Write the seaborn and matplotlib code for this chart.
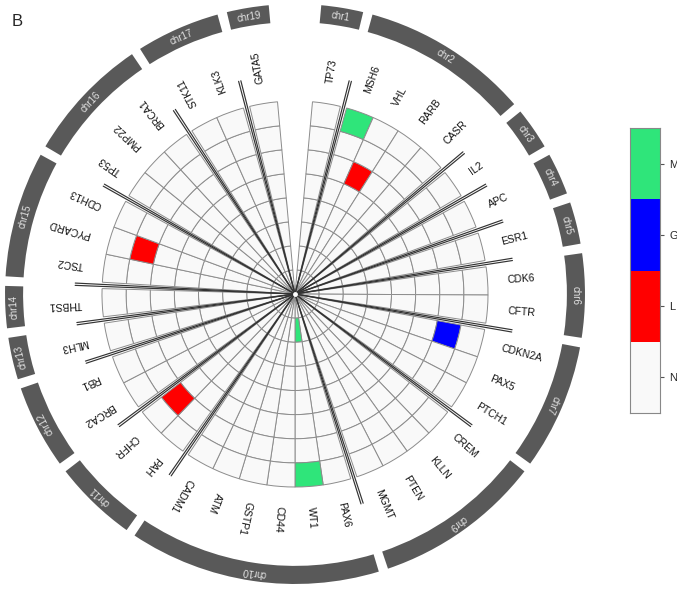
import numpy as np
import pandas as pd
import seaborn as sns
import matplotlib
matplotlib.use("Agg")
import matplotlib.pyplot as plt
from matplotlib.colors import ListedColormap

# genes in clockwise order, starting at 12 o'clock
genes = ["TP73", "MSH6", "VHL", "RARB", "CASR", "IL2", "APC", "ESR1", "CDK6", "CFTR",
         "CDKN2A", "PAX5", "PTCH1", "CREM", "KLLN", "PTEN", "MGMT", "PAX6", "WT1", "CD44",
         "GSTP1", "ATM", "CADM1", "PAH", "CHFR", "BRCA2", "RB1", "MLH3", "THBS1", "TSC2",
         "PYCARD", "CDH13", "TP53", "PMP22", "BRCA1", "STK11", "KLK3", "GATA5"]
group_sizes = [1, 4, 1, 1, 1, 2, 3, 4, 6, 2, 2, 1, 1, 3, 3, 2, 1]
chrom_names = ["chr1", "chr2", "chr3", "chr4", "chr5", "chr6", "chr7", "chr9", "chr10",
               "chr11", "chr12", "chr13", "chr14", "chr15", "chr16", "chr17", "chr19"]
n_samples = 8

status_names = ["N", "L", "G", "M"]
status_colors = ["#f9f9f9", "#ff0000", "#0000ff", "#2fe57a"]

# non-normal cells (sample ring counted from the centre)
hit_genes = ["MSH6", "VHL", "CDKN2A", "WT1", "WT1", "CHFR", "PYCARD"]
hit_rings = [7, 5, 6, 1, 7, 6, 6]
hit_status = ["M", "L", "G", "M", "M", "L", "L"]

calls = pd.DataFrame("N", index=range(n_samples), columns=genes)
for g, r, s in zip(hit_genes, hit_rings, hit_status):
    calls.loc[r, g] = s
codes = calls.replace({s: i for i, s in enumerate(status_names)}).astype(int)

sns.set_style("white")
plt.rcParams["font.family"] = ["Liberation Sans", "DejaVu Sans"]

# angular layout (degrees, clockwise from north)
cell_w, gap, start = 8.4, 1.9, 5.2
theta_lo, spans, boundaries = [], [], []
a = start
for gi, n in enumerate(group_sizes):
    g0 = a
    for k in range(n):
        theta_lo.append(a)
        a += cell_w
    spans.append((g0, a))
    if gi < len(group_sizes) - 1:
        boundaries.append(a + gap / 2)
        a += gap
theta_mid = np.array(theta_lo) + cell_w / 2

W, H = 677, 590
fig = plt.figure(figsize=(W / 100, H / 100), dpi=100)
R = 12.2
pix = R * 193 / 8
cx, cy = 295, 294
ax = fig.add_axes([(cx - pix) / W, (H - cy - pix) / H, 2 * pix / W, 2 * pix / H],
                  projection="polar")
ax.set_theta_zero_location("N")
ax.set_theta_direction(-1)
ax.set_ylim(0, R)
ax.axis("off")

# heatmap cells
th, bt, cols = [], [], []
for i, g in enumerate(genes):
    for r in range(n_samples):
        th.append(np.deg2rad(theta_mid[i]))
        bt.append(r)
        cols.append(status_colors[codes.loc[r, g]])
ax.bar(th, 1, width=np.deg2rad(cell_w), bottom=bt, color=cols,
       edgecolor="#8c8c8c", linewidth=0.7, align="center")

# group separators
for b in boundaries:
    for off in (-0.3, 0.3):
        ax.plot([np.deg2rad(b + off)] * 2, [0, 9.12], color="#333333", lw=0.85)
ax.plot([0], [0], "o", color="white", ms=3.5, mec="none", zorder=5)

# gene labels
for g, t in zip(genes, theta_mid):
    ax.text(np.deg2rad(t), 8.83, g, rotation=90 - t, rotation_mode="anchor",
            ha="left", va="center", fontsize=7.5, color="#111111")

# chromosome bands
for name, (s0, s1) in zip(chrom_names, spans):
    mid = (s0 + s1) / 2
    ax.bar(np.deg2rad(mid), 0.75, width=np.deg2rad(s1 - s0), bottom=11.27,
           color="#595959", linewidth=0)
    ax.text(np.deg2rad(mid), 11.64, name, rotation=-mid, rotation_mode="anchor",
            ha="center", va="center", fontsize=7, color="#e4e4e4")

# legend strip
lax = fig.add_axes([630 / W, (H - 413) / H, 30 / W, 285 / H])
legend_df = pd.DataFrame({"v": [3, 2, 1, 0]}, index=["M", "G", "L", "N"])
sns.heatmap(legend_df, cmap=ListedColormap(status_colors), vmin=-0.5, vmax=3.5,
            cbar=False, ax=lax, xticklabels=False, linewidths=0)
lax.yaxis.tick_right()
lax.set_yticklabels(["M", "G", "L", "N"], rotation=0, fontsize=8)
lax.tick_params(axis="y", length=3, right=True, left=False, color="#555555")
lax.set_ylabel("")
lax.set_xlabel("")
for sp in lax.spines.values():
    sp.set_visible(True)
    sp.set_color("#888888")
    sp.set_linewidth(0.8)

fig.text(12 / W, 1 - 21 / H, "B", fontsize=12, va="center")

fig.savefig("out.png", dpi=100)
